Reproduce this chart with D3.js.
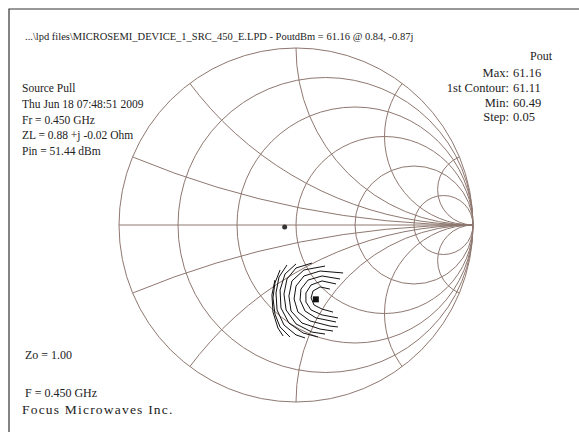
<html>
<head>
<script src="https://d3js.org/d3.v7.min.js"></script>
<style>
body { margin: 0; background: #fff; }
text { font-family: "Liberation Serif", "Times New Roman", serif; fill: #222; }
</style>
</head>
<body>
<svg id="chart" width="579" height="432"></svg>
<script>
// Smith chart grid values
var rCircles = [0.2, 0.5, 1, 2, 5];
var xArcs = [0.2, 0.5, 1, 2, 5];

// markers (reflection coefficient, real / imag)
var zlPoint = [-0.064, -0.011];
var maxPoint = [0.112, -0.420];

// Pout contours, in reflection coefficient coords
var contours = [
  [[0.192,-0.362],[0.136,-0.350],[0.096,-0.373],[0.085,-0.412],[0.102,-0.452],[0.147,-0.475],[0.209,-0.492]],
  [[0.226,-0.333],[0.147,-0.316],[0.085,-0.339],[0.056,-0.384],[0.056,-0.435],[0.085,-0.480],[0.147,-0.508],[0.237,-0.525]],
  [[0.249,-0.305],[0.147,-0.288],[0.068,-0.311],[0.028,-0.362],[0.023,-0.424],[0.051,-0.486],[0.113,-0.525],[0.226,-0.548]],
  [[0.266,-0.271],[0.136,-0.260],[0.045,-0.288],[0,-0.345],[-0.011,-0.418],[0.011,-0.492],[0.079,-0.542],[0.192,-0.571],[0.237,-0.576]],
  [[0.164,-0.232],[0.045,-0.254],[-0.023,-0.316],[-0.040,-0.401],[-0.028,-0.486],[0.034,-0.554],[0.136,-0.588],[0.209,-0.599]],
  [[0.090,-0.215],[0,-0.243],[-0.051,-0.305],[-0.068,-0.390],[-0.056,-0.480],[0,-0.559],[0.090,-0.605],[0.164,-0.616]],
  [[0,-0.220],[-0.062,-0.277],[-0.090,-0.367],[-0.085,-0.469],[-0.040,-0.554],[0.040,-0.610],[0.124,-0.633]],
  [[-0.051,-0.226],[-0.096,-0.294],[-0.113,-0.384],[-0.107,-0.480],[-0.068,-0.565],[0,-0.621],[0.051,-0.638]],
  [[-0.090,-0.254],[-0.119,-0.328],[-0.130,-0.412],[-0.119,-0.503],[-0.090,-0.576],[-0.034,-0.633]],
  [[-0.119,-0.311],[-0.136,-0.395],[-0.130,-0.492],[-0.102,-0.582],[-0.073,-0.627]]
];

var titleText = "...\\lpd files\\MICROSEMI_DEVICE_1_SRC_450_E.LPD - PoutdBm = 61.16 @ 0.84, -0.87j";
var infoLines = ["Source Pull", "Thu Jun 18 07:48:51 2009", "Fr = 0.450 GHz", "ZL = 0.88 +j -0.02 Ohm", "Pin = 51.44 dBm"];
var statLabels = ["Max:", "1st Contour:", "Min:", "Step:"];
var statValues = ["61.16", "61.11", "60.49", "0.05"];

var svg = d3.select("#chart");
var cx = 296, cy = 225, R = 177;
var gridColor = "#8e7870";

var x = d3.scaleLinear().domain([-1, 1]).range([cx - R, cx + R]);
var y = d3.scaleLinear().domain([-1, 1]).range([cy + R, cy - R]);
var k = R; // pixels per unit

// frame (top and left edges only)
svg.append("path").attr("d", "M9,432 L9,9 L579,9").attr("fill", "none").attr("stroke", "#333").attr("stroke-width", 1.2);

svg.append("defs").append("clipPath").attr("id", "unit")
  .append("circle").attr("cx", x(0)).attr("cy", y(0)).attr("r", k);

var grid = svg.append("g").attr("fill", "none").attr("stroke", gridColor).attr("stroke-width", 1);

grid.append("circle").attr("cx", x(0)).attr("cy", y(0)).attr("r", k);
grid.append("line").attr("x1", x(-1)).attr("x2", x(1)).attr("y1", y(0)).attr("y2", y(0));

grid.selectAll(".rc").data(rCircles).enter().append("circle")
  .attr("class", "rc")
  .attr("cx", function(d) { return x(d / (1 + d)); })
  .attr("cy", y(0))
  .attr("r", function(d) { return k / (1 + d); });

var arcs = grid.append("g").attr("clip-path", "url(#unit)");
[1, -1].forEach(function(s) {
  arcs.selectAll(".xa" + (s > 0 ? "p" : "n")).data(xArcs).enter().append("circle")
    .attr("cx", x(1))
    .attr("cy", function(d) { return y(s / d); })
    .attr("r", function(d) { return k / d; });
});

// contours
var line = d3.line().x(function(d) { return x(d[0]); }).y(function(d) { return y(d[1]); });
svg.append("g").selectAll("path").data(contours).enter().append("path")
  .attr("d", line)
  .attr("fill", "none")
  .attr("stroke", "#111")
  .attr("stroke-width", 1);

// markers
svg.append("circle").attr("cx", x(zlPoint[0])).attr("cy", y(zlPoint[1])).attr("r", 2.5).attr("fill", "#333");
svg.append("rect").attr("x", x(maxPoint[0]) - 3).attr("y", y(maxPoint[1]) - 3).attr("width", 6).attr("height", 6).attr("fill", "#111");

// texts
svg.append("text").attr("x", 25).attr("y", 40).attr("font-size", 10.5).text(titleText);

svg.selectAll(".info").data(infoLines).enter().append("text")
  .attr("class", "info")
  .attr("x", 22)
  .attr("y", function(d, i) { return 92 + i * 15.8; })
  .attr("font-size", 11.5)
  .text(function(d) { return d; });

svg.append("text").attr("x", 541).attr("y", 60).attr("text-anchor", "middle").attr("font-size", 12).text("Pout");
svg.selectAll(".slab").data(statLabels).enter().append("text")
  .attr("class", "slab").attr("x", 509).attr("text-anchor", "end")
  .attr("y", function(d, i) { return 77 + i * 14.8; })
  .attr("font-size", 12.5).text(function(d) { return d; });
svg.selectAll(".sval").data(statValues).enter().append("text")
  .attr("class", "sval").attr("x", 513)
  .attr("y", function(d, i) { return 77 + i * 14.8; })
  .attr("font-size", 12.5).text(function(d) { return d; });

svg.append("text").attr("x", 25).attr("y", 359).attr("font-size", 12).text("Zo = 1.00");
svg.append("text").attr("x", 25).attr("y", 397).attr("font-size", 12).text("F = 0.450 GHz");
svg.append("text").attr("x", 22).attr("y", 414).attr("font-size", 13.5).attr("letter-spacing", 1.2).text("Focus Microwaves Inc.");
</script>
</body>
</html>
